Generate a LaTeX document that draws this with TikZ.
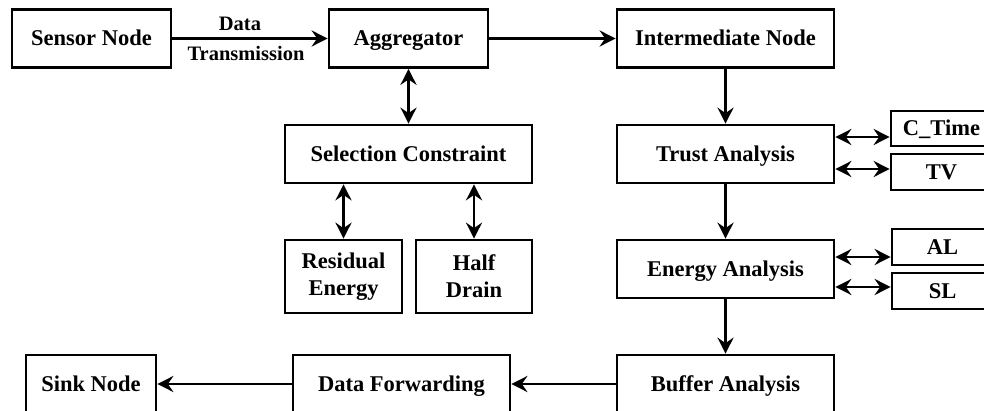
\documentclass[tikz,border=0pt]{standalone}
\usepackage{fontspec}
\setmainfont{Liberation Serif}
\usetikzlibrary{arrows.meta}
\begin{document}
\begin{tikzpicture}[x=1pt,y=-1pt,
  box/.style={draw, line width=2.7pt, inner sep=0pt, align=center,
    font=\fontsize{22.5}{27}\selectfont\bfseries},
  one/.style={box, text height=15pt, text depth=0pt},
  arr/.style={line width=2.7pt, -{Stealth[length=16pt,width=16pt,inset=5.5pt]}},
  dbl/.style={line width=2.7pt, {Stealth[length=16pt,width=16pt,inset=5.5pt]}-{Stealth[length=16pt,width=16pt,inset=5.5pt]}},
  lbl/.style={inner sep=0pt, font=\fontsize{20.5}{24}\selectfont\bfseries}]
\useasboundingbox (0,0) rectangle (984,411);
\clip (0,0) rectangle (984,411);
% nodes
\node[one, minimum width=159pt, minimum height=58pt] (sensor) at (91.5,38.5) {Sensor Node};
\node[one, minimum width=159pt, minimum height=58pt] (aggr) at (408.5,38.5) {Aggregator};
\node[one, minimum width=217pt, minimum height=58pt] (inter) at (725.5,38.5) {Intermediate Node};
\node[one, minimum width=247pt, minimum height=58pt] (sel) at (408.5,154) {Selection Constraint};
\node[box, minimum width=117pt, minimum height=73pt] (resid) at (343.5,276.5) {Residual\\Energy};
\node[box, minimum width=116pt, minimum height=73pt] (half) at (474,276.5) {Half\\Drain};
\node[one, minimum width=217pt, minimum height=58pt] (trust) at (725.5,154) {Trust Analysis};
\node[one, minimum width=217pt, minimum height=58pt] (energy) at (725.5,269) {Energy Analysis};
\node[one, minimum width=217pt, minimum height=58pt] (buffer) at (725.5,384) {Buffer Analysis};
\node[one, minimum width=217pt, minimum height=58pt] (dataf) at (401.5,384) {Data Forwarding};
\node[one, minimum width=130pt, minimum height=58pt] (sink) at (91,384) {Sink Node};
\node[one, minimum width=101pt, minimum height=35pt] (ctime) at (941.5,128.5) {C\_Time};
\node[one, minimum width=101pt, minimum height=36pt] (tv) at (941.5,172) {TV};
\node[one, minimum width=101pt, minimum height=36pt] (al) at (942.5,247) {AL};
\node[one, minimum width=101pt, minimum height=36pt] (sl) at (942.5,291) {SL};
% connectors
\draw[arr] (sensor.east) -- (aggr.west)
  node[lbl, pos=0.5, above=6pt, xshift=-10pt] {Data}
  node[lbl, pos=0.5, below=6pt, xshift=-4pt] {Transmission};
\draw[arr] (aggr.east) -- (inter.west);
\draw[dbl] (aggr.south) -- (sel.north);
\draw[dbl] (resid.north |- sel.south) -- (resid.north);
\draw[dbl] (half.north |- sel.south) -- (half.north);
\draw[arr] (inter.south) -- (trust.north);
\draw[arr] (trust.south) -- (energy.north);
\draw[arr] (energy.south) -- (buffer.north);
\draw[arr] (buffer.west) -- (dataf.east);
\draw[arr] (dataf.west) -- (sink.east);
\draw[dbl] ([yshift=17pt]trust.east) -- ([yshift=17pt]trust.east -| ctime.west);
\draw[dbl] ([yshift=-15pt]trust.east) -- ([yshift=-15pt]trust.east -| tv.west);
\draw[dbl] ([yshift=12pt]energy.east) -- ([yshift=12pt]energy.east -| al.west);
\draw[dbl] ([yshift=-18pt]energy.east) -- ([yshift=-18pt]energy.east -| sl.west);
\end{tikzpicture}
\end{document}
